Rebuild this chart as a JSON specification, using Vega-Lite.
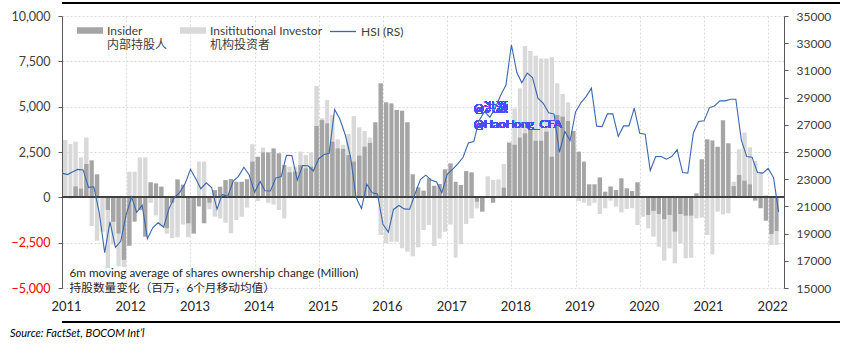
{
  "$schema": "https://vega.github.io/schema/vega-lite/v6.json",
  "width": 722,
  "height": 272,
  "autosize": {"type": "none"},
  "padding": {"left": 62, "top": 16, "right": 66, "bottom": 61},
  "background": "#ffffff",
  "config": {"view": {"stroke": null}, "font": "Lato, 'Noto Sans CJK SC', sans-serif"},
  "title": {"text": "Source: FactSet, BOCOM Int’l", "orient": "bottom", "anchor": "start", "frame": "group", "dx": -52, "offset": 5, "font": "Lato, sans-serif", "fontSize": 11, "fontStyle": "italic", "fontWeight": "normal", "color": "#000000"},
  "data": {"values": [
    {"d":"2011-01-15","ins":0,"inst":3160,"hsi":23447},
    {"d":"2011-02-15","ins":-50,"inst":2940,"hsi":23338},
    {"d":"2011-03-15","ins":600,"inst":3070,"hsi":23528},
    {"d":"2011-04-15","ins":480,"inst":2200,"hsi":23721},
    {"d":"2011-05-15","ins":1840,"inst":3300,"hsi":23684},
    {"d":"2011-06-15","ins":2040,"inst":-1580,"hsi":22398},
    {"d":"2011-07-15","ins":1270,"inst":-2390,"hsi":22440},
    {"d":"2011-08-15","ins":50,"inst":-1900,"hsi":20535},
    {"d":"2011-09-15","ins":-700,"inst":-3900,"hsi":17592},
    {"d":"2011-10-15","ins":-1350,"inst":-2600,"hsi":19865},
    {"d":"2011-11-15","ins":-2000,"inst":-3800,"hsi":17989},
    {"d":"2011-12-15","ins":-3450,"inst":-3850,"hsi":18434},
    {"d":"2012-01-15","ins":-2670,"inst":1415,"hsi":20390},
    {"d":"2012-02-15","ins":-1340,"inst":1415,"hsi":21680},
    {"d":"2012-03-15","ins":-700,"inst":2200,"hsi":20556},
    {"d":"2012-04-15","ins":-2170,"inst":2200,"hsi":21094},
    {"d":"2012-05-15","ins":830,"inst":-300,"hsi":18630},
    {"d":"2012-06-15","ins":770,"inst":-1000,"hsi":19441},
    {"d":"2012-07-15","ins":590,"inst":-1600,"hsi":19797},
    {"d":"2012-08-15","ins":-1700,"inst":-2000,"hsi":19483},
    {"d":"2012-09-15","ins":-300,"inst":-2250,"hsi":20840},
    {"d":"2012-10-15","ins":990,"inst":-2200,"hsi":21642},
    {"d":"2012-11-15","ins":700,"inst":-1500,"hsi":22030},
    {"d":"2012-12-15","ins":-1430,"inst":-2200,"hsi":22657},
    {"d":"2013-01-15","ins":-2000,"inst":-1500,"hsi":23730},
    {"d":"2013-02-15","ins":-500,"inst":1970,"hsi":23020},
    {"d":"2013-03-15","ins":-1430,"inst":1970,"hsi":22300},
    {"d":"2013-04-15","ins":-300,"inst":-660,"hsi":22737},
    {"d":"2013-05-15","ins":400,"inst":-1070,"hsi":22392},
    {"d":"2013-06-15","ins":590,"inst":-1160,"hsi":20803},
    {"d":"2013-07-15","ins":950,"inst":-1400,"hsi":21884},
    {"d":"2013-08-15","ins":1010,"inst":-1980,"hsi":21731},
    {"d":"2013-09-15","ins":860,"inst":-1250,"hsi":22860},
    {"d":"2013-10-15","ins":860,"inst":-1070,"hsi":23206},
    {"d":"2013-11-15","ins":1000,"inst":-570,"hsi":23881},
    {"d":"2013-12-15","ins":1970,"inst":2930,"hsi":23306},
    {"d":"2014-01-15","ins":2240,"inst":-200,"hsi":22035},
    {"d":"2014-02-15","ins":2480,"inst":2740,"hsi":22837},
    {"d":"2014-03-15","ins":2480,"inst":-300,"hsi":22151},
    {"d":"2014-04-15","ins":2700,"inst":-400,"hsi":22134},
    {"d":"2014-05-15","ins":2430,"inst":-700,"hsi":23082},
    {"d":"2014-06-15","ins":1780,"inst":-1160,"hsi":23191},
    {"d":"2014-07-15","ins":1380,"inst":1690,"hsi":24757},
    {"d":"2014-08-15","ins":1415,"inst":1690,"hsi":24742},
    {"d":"2014-09-15","ins":1780,"inst":2520,"hsi":22933},
    {"d":"2014-10-15","ins":1600,"inst":2330,"hsi":23998},
    {"d":"2014-11-15","ins":1700,"inst":2460,"hsi":23987},
    {"d":"2014-12-15","ins":3930,"inst":6140,"hsi":23605},
    {"d":"2015-01-15","ins":4260,"inst":4360,"hsi":24507},
    {"d":"2015-02-15","ins":4080,"inst":5370,"hsi":24823},
    {"d":"2015-03-15","ins":3070,"inst":4540,"hsi":24901},
    {"d":"2015-04-15","ins":2700,"inst":3200,"hsi":28133},
    {"d":"2015-05-15","ins":2670,"inst":2900,"hsi":27424},
    {"d":"2015-06-15","ins":2330,"inst":3490,"hsi":26250},
    {"d":"2015-07-15","ins":1970,"inst":4480,"hsi":24636},
    {"d":"2015-08-15","ins":2300,"inst":3860,"hsi":21671},
    {"d":"2015-09-15","ins":2790,"inst":3660,"hsi":20846},
    {"d":"2015-10-15","ins":3000,"inst":3300,"hsi":22640},
    {"d":"2015-11-15","ins":4140,"inst":3800,"hsi":21996},
    {"d":"2015-12-15","ins":6290,"inst":-2080,"hsi":21914},
    {"d":"2016-01-15","ins":5240,"inst":-2540,"hsi":19683},
    {"d":"2016-02-15","ins":5180,"inst":-2450,"hsi":19112},
    {"d":"2016-03-15","ins":4820,"inst":-2450,"hsi":20777},
    {"d":"2016-04-15","ins":4780,"inst":-2810,"hsi":21067},
    {"d":"2016-05-15","ins":4140,"inst":-3000,"hsi":20815},
    {"d":"2016-06-15","ins":1270,"inst":-3250,"hsi":20794},
    {"d":"2016-07-15","ins":550,"inst":-2760,"hsi":21891},
    {"d":"2016-08-15","ins":370,"inst":-1800,"hsi":22977},
    {"d":"2016-09-15","ins":1050,"inst":-1530,"hsi":23297},
    {"d":"2016-10-15","ins":640,"inst":-2690,"hsi":22935},
    {"d":"2016-11-15","ins":735,"inst":-2270,"hsi":22790},
    {"d":"2016-12-15","ins":1545,"inst":-1900,"hsi":22001},
    {"d":"2017-01-15","ins":1875,"inst":-1500,"hsi":23361},
    {"d":"2017-02-15","ins":860,"inst":-3330,"hsi":23741},
    {"d":"2017-03-15","ins":680,"inst":-2590,"hsi":24112},
    {"d":"2017-04-15","ins":1450,"inst":-1470,"hsi":24615},
    {"d":"2017-05-15","ins":1380,"inst":-1160,"hsi":25661},
    {"d":"2017-06-15","ins":-240,"inst":-610,"hsi":25765},
    {"d":"2017-07-15","ins":-790,"inst":-300,"hsi":27324},
    {"d":"2017-08-15","ins":0,"inst":1160,"hsi":27970},
    {"d":"2017-09-15","ins":-300,"inst":960,"hsi":27554},
    {"d":"2017-10-15","ins":0,"inst":990,"hsi":28246},
    {"d":"2017-11-15","ins":530,"inst":1840,"hsi":29177},
    {"d":"2017-12-15","ins":3000,"inst":3070,"hsi":29919},
    {"d":"2018-01-15","ins":2900,"inst":4900,"hsi":32887},
    {"d":"2018-02-15","ins":3290,"inst":6010,"hsi":30845},
    {"d":"2018-03-15","ins":3530,"inst":8340,"hsi":30093},
    {"d":"2018-04-15","ins":3730,"inst":8070,"hsi":30808},
    {"d":"2018-05-15","ins":3120,"inst":7810,"hsi":30469},
    {"d":"2018-06-15","ins":3120,"inst":7660,"hsi":28955},
    {"d":"2018-07-15","ins":3620,"inst":7660,"hsi":28583},
    {"d":"2018-08-15","ins":2240,"inst":7720,"hsi":27889},
    {"d":"2018-09-15","ins":4540,"inst":6290,"hsi":27789},
    {"d":"2018-10-15","ins":4450,"inst":5700,"hsi":24980},
    {"d":"2018-11-15","ins":4210,"inst":5240,"hsi":26507},
    {"d":"2018-12-15","ins":3660,"inst":2790,"hsi":25846},
    {"d":"2019-01-15","ins":2520,"inst":-200,"hsi":27942},
    {"d":"2019-02-15","ins":1970,"inst":-300,"hsi":28633},
    {"d":"2019-03-15","ins":720,"inst":-460,"hsi":29051},
    {"d":"2019-04-15","ins":720,"inst":-300,"hsi":29699},
    {"d":"2019-05-15","ins":1100,"inst":-920,"hsi":26901},
    {"d":"2019-06-15","ins":310,"inst":-600,"hsi":26870},
    {"d":"2019-07-15","ins":600,"inst":-180,"hsi":27800},
    {"d":"2019-08-15","ins":400,"inst":-510,"hsi":27800},
    {"d":"2019-09-15","ins":1050,"inst":-830,"hsi":26140},
    {"d":"2019-10-15","ins":500,"inst":-640,"hsi":26920},
    {"d":"2019-11-15","ins":350,"inst":-600,"hsi":26920},
    {"d":"2019-12-15","ins":830,"inst":-1530,"hsi":28220},
    {"d":"2020-01-15","ins":0,"inst":-1070,"hsi":26380},
    {"d":"2020-02-15","ins":-970,"inst":-1710,"hsi":26310},
    {"d":"2020-03-15","ins":-750,"inst":-2170,"hsi":23640},
    {"d":"2020-04-15","ins":-920,"inst":-2720,"hsi":24665},
    {"d":"2020-05-15","ins":-1200,"inst":-3490,"hsi":24665},
    {"d":"2020-06-15","ins":-970,"inst":-2810,"hsi":24470},
    {"d":"2020-07-15","ins":-1890,"inst":-3640,"hsi":24665},
    {"d":"2020-08-15","ins":-920,"inst":-2540,"hsi":25160},
    {"d":"2020-09-15","ins":-1010,"inst":-3360,"hsi":23490},
    {"d":"2020-10-15","ins":-1010,"inst":-3330,"hsi":23445},
    {"d":"2020-11-15","ins":220,"inst":-1160,"hsi":26380},
    {"d":"2020-12-15","ins":2100,"inst":-1120,"hsi":27240},
    {"d":"2021-01-15","ins":3200,"inst":-2080,"hsi":27290},
    {"d":"2021-02-15","ins":3140,"inst":-3140,"hsi":28265},
    {"d":"2021-03-15","ins":2790,"inst":-790,"hsi":28390},
    {"d":"2021-04-15","ins":4250,"inst":-940,"hsi":28760},
    {"d":"2021-05-15","ins":2980,"inst":-880,"hsi":28760},
    {"d":"2021-06-15","ins":620,"inst":860,"hsi":28880},
    {"d":"2021-07-15","ins":1230,"inst":2650,"hsi":28880},
    {"d":"2021-08-15","ins":920,"inst":3580,"hsi":25890},
    {"d":"2021-09-15","ins":720,"inst":2760,"hsi":24665},
    {"d":"2021-10-15","ins":-180,"inst":2000,"hsi":24620},
    {"d":"2021-11-15","ins":-600,"inst":1380,"hsi":23490},
    {"d":"2021-12-15","ins":-1290,"inst":130,"hsi":23445},
    {"d":"2022-01-15","ins":-2020,"inst":-2630,"hsi":23790},
    {"d":"2022-02-15","ins":-1860,"inst":-2630,"hsi":23100},
    {"d":"2022-03-15","hsi":20600}
  ]},
  "layer": [
    {
      "layer": [
        {
          "transform": [{"fold": ["inst", "ins"], "as": ["series", "v"]}],
          "mark": {"type": "bar", "timeUnitBandSize": 0.8},
          "encoding": {
            "x": {
              "field": "d", "timeUnit": "yearmonth", "type": "temporal",
              "scale": {"domain": [{"year": 2011, "month": 1, "date": 1}, {"year": 2022, "month": 4, "date": 1}]},
              "axis": {
                "values": [
                  {"year": 2011, "month": 1, "date": 1}, {"year": 2012, "month": 1, "date": 1}, {"year": 2013, "month": 1, "date": 1},
                  {"year": 2014, "month": 1, "date": 1}, {"year": 2015, "month": 1, "date": 1}, {"year": 2016, "month": 1, "date": 1},
                  {"year": 2017, "month": 1, "date": 1}, {"year": 2018, "month": 1, "date": 1}, {"year": 2019, "month": 1, "date": 1},
                  {"year": 2020, "month": 1, "date": 1}, {"year": 2021, "month": 1, "date": 1}, {"year": 2022, "month": 1, "date": 1}
                ],
                "format": "%Y", "formatType": "time",
                "labelOffset": 4, "labelFlush": false, "labelOverlap": false, "labelBound": false,
                "grid": true, "gridDash": [2, 2], "gridColor": "#D9D9D9",
                "domain": false, "ticks": false, "labelPadding": 12,
                "labelFont": "Lato", "labelFontSize": 13, "labelColor": "#262626",
                "title": ["6m moving average of shares ownership change (Million)", "持股数量变化（百万，6个月移动均值）"],
                "titleX": 7, "titleY": -12, "titleAlign": "left", "titleBaseline": "alphabetic", "titleAnchor": "start",
                "titleFont": "Lato, 'Noto Sans CJK SC', sans-serif", "titleFontSize": 11.7, "titleFontWeight": "normal", "titleColor": "#262626", "titleLineHeight": 15
              }
            },
            "y": {
              "field": "v", "type": "quantitative", "stack": null,
              "scale": {"domain": [-5000, 10000], "nice": false, "zero": false},
              "axis": {
                "values": [-5000, -2500, 0, 2500, 5000, 7500, 10000], "format": ",.0f",
                "labelColor": {"expr": "datum.value < 0 ? '#FF0000' : '#404040'"},
                "grid": true, "gridDash": [2, 2], "gridColor": "#D9D9D9",
                "domainColor": "#595959", "tickColor": "#595959", "tickSize": 4, "labelPadding": 8,
                "labelFont": "Lato", "labelFontSize": 12.5, "title": null
              }
            },
            "color": {
              "field": "series", "type": "nominal",
              "scale": {"domain": ["ins", "inst"], "range": ["#A5A5A5", "#D9D9D9"]},
              "legend": {
                "orient": "none", "legendX": 15, "legendY": 1.5, "direction": "horizontal", "title": null,
                "symbolType": "M-1,-0.25H1V0.25H-1Z", "symbolSize": 676, "symbolStrokeWidth": 0,
                "labelExpr": "datum.value == 'ins' ? ['Insider', '内部持股人'] : ['Insititutional Investor', '机构投资者']",
                "labelFont": "Lato, 'Noto Sans CJK SC', sans-serif", "labelFontSize": 12, "labelColor": "#404040",
                "labelBaseline": "middle", "labelOffset": 4, "columnPadding": 12, "padding": 0, "labelLimit": 300
              }
            }
          }
        },
        {
          "mark": {"type": "rule", "color": "#404040", "strokeWidth": 1.2},
          "encoding": {"y": {"datum": 0}}
        },
        {
          "mark": {"type": "text", "align": "left", "baseline": "middle", "fontSize": 12, "color": "#4B4BFF", "lineHeight": 16, "font": "Lato, 'Noto Sans CJK SC', sans-serif"},
          "encoding": {
            "x": {"datum": {"year": 2017, "month": 6, "date": 1}, "type": "temporal"},
            "y": {"datum": 4925},
            "text": {"value": ["@洪灏", "@HaoHong_CFA"]}
          }
        },
        {
          "mark": {"type": "rule", "color": "#000000", "strokeWidth": 1.5, "xOffset": 56, "x2Offset": -54},
          "encoding": {"y": {"datum": 10700}}
        },
        {
          "mark": {"type": "rule", "color": "#000000", "strokeWidth": 1.5, "xOffset": 56, "x2Offset": -54},
          "encoding": {"y": {"datum": -6875}}
        }
      ]
    },
    {
      "mark": {"type": "line", "strokeWidth": 1.1, "timeUnitBandPosition": 0.5},
      "encoding": {
        "x": {"field": "d", "timeUnit": "yearmonth", "type": "temporal"},
        "y": {
          "field": "hsi", "type": "quantitative",
          "scale": {"domain": [15000, 35000], "nice": false, "zero": false},
          "axis": {
            "orient": "right", "values": [15000, 17000, 19000, 21000, 23000, 25000, 27000, 29000, 31000, 33000, 35000],
            "format": "d", "title": null, "grid": false,
            "domainColor": "#595959", "tickColor": "#595959", "tickSize": 4, "labelPadding": 8,
            "labelFont": "Lato", "labelFontSize": 12, "labelColor": "#404040"
          }
        },
        "stroke": {
          "datum": "HSI (RS)", "type": "nominal",
          "scale": {"range": ["#3A67AE"]},
          "legend": {
            "orient": "none", "legendX": 267, "legendY": 1.5, "title": null,
            "symbolType": "stroke", "symbolSize": 676, "symbolStrokeWidth": 1.3,
            "labelExpr": "[datum.label, '']",
            "labelFont": "Lato", "labelFontSize": 12, "labelColor": "#404040",
            "labelBaseline": "middle", "labelOffset": 4, "padding": 0
          }
        }
      }
    }
  ],
  "resolve": {"scale": {"y": "independent"}}
}
